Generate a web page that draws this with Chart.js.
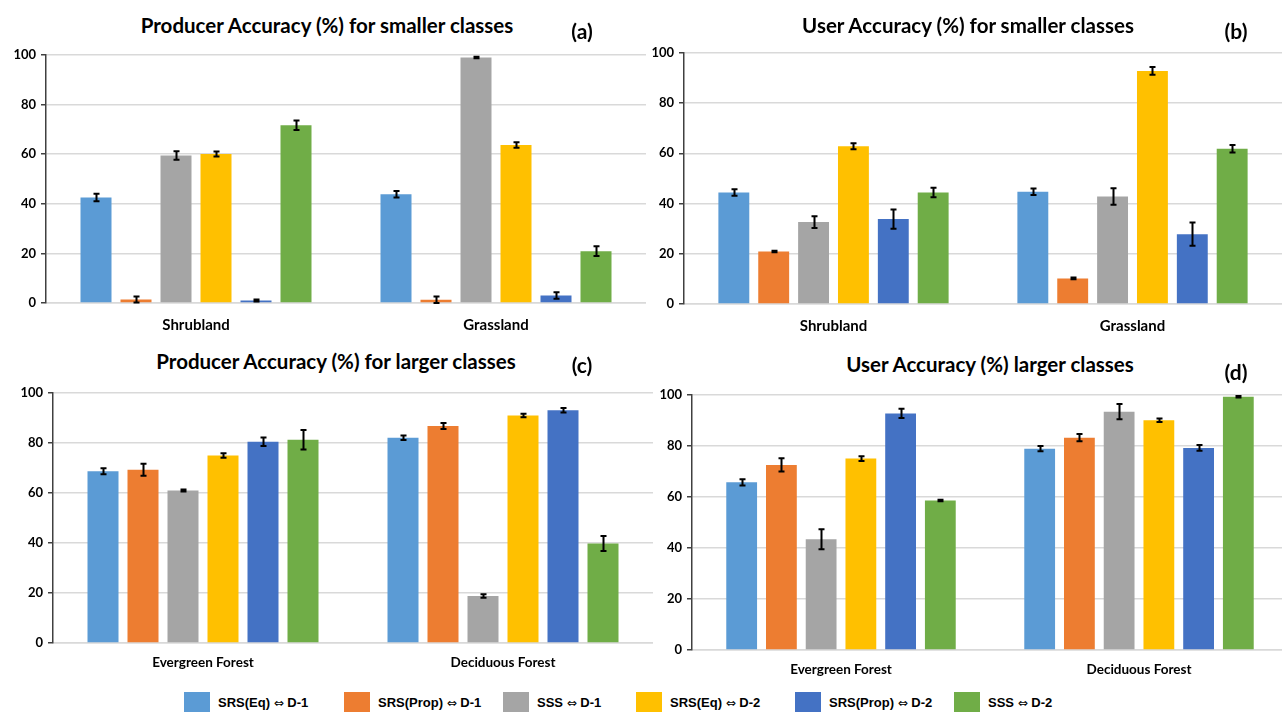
<!DOCTYPE html>
<html><head><meta charset="utf-8">
<script src="https://cdn.jsdelivr.net/npm/chart.js@4.4.1/dist/chart.umd.min.js"></script>
<style>
html,body{margin:0;padding:0;background:#fff;overflow:hidden;width:1282px;height:720px;position:relative;font-family:Lato,sans-serif}
canvas{position:absolute}
.title{position:absolute;font-weight:bold;font-size:20.5px;color:#000;white-space:nowrap;transform:translateX(-50%);line-height:1}
.tag{position:absolute;font-weight:bold;font-size:21px;color:#000;white-space:nowrap;transform:translateX(-50%);line-height:1}
.item{position:absolute;top:692px;height:20px;display:flex;align-items:center}
.sw{width:26px;height:20px;margin-right:8px}
.lt{font-family:'Liberation Sans Narrow','Liberation Sans',sans-serif;font-weight:bold;font-size:13px;color:#000;white-space:nowrap}
.ar{font-family:'DejaVu Sans',sans-serif;font-weight:normal;font-size:12px}
</style></head>
<body>
<script>
// ---- data ----
const seriesNames = ['SRS(Eq) \u21D4 D-1','SRS(Prop) \u21D4 D-1','SSS \u21D4 D-1','SRS(Eq) \u21D4 D-2','SRS(Prop) \u21D4 D-2','SSS \u21D4 D-2'];
const seriesColors = ['#5B9BD5','#ED7D31','#A5A5A5','#FFC000','#4472C4','#70AD47'];
const smallClasses = ['Shrubland','Grassland'];
const largeClasses = ['Evergreen Forest','Deciduous Forest'];
const yTicks = [0,20,40,60,80,100];

// (a) Producer accuracy, smaller classes — one [Shrubland, Grassland] pair per series
const paSmall    = [[42.5,43.8],[1.4,1.3],[59.4,98.9],[60.0,63.7],[1.0,3.0],[71.6,20.9]];
const paSmallErr = [[1.5,1.3],[1.2,1.3],[1.7,0.3],[1.0,1.1],[0.4,1.3],[1.9,2.0]];
// (b) User accuracy, smaller classes
const uaSmall    = [[44.4,44.7],[20.9,10.2],[32.6,42.8],[62.8,92.8],[33.8,27.8],[44.4,61.8]];
const uaSmallErr = [[1.3,1.3],[0.3,0.3],[2.3,3.3],[1.2,1.5],[3.8,4.6],[1.9,1.5]];
// (c) Producer accuracy, larger classes — [Evergreen, Deciduous]
const paLarge    = [[68.6,82.0],[69.2,86.7],[61.0,18.8],[74.9,90.9],[80.4,93.0],[81.2,39.8]];
const paLargeErr = [[1.2,0.9],[2.4,1.2],[0.4,0.7],[0.9,0.7],[1.7,0.9],[3.9,3.0]];
// (d) User accuracy, larger classes
const uaLarge    = [[65.7,78.9],[72.5,83.2],[43.4,93.4],[75.0,90.0],[92.7,79.2],[58.6,99.2]];
const uaLargeErr = [[1.2,1.0],[2.6,1.4],[3.9,3.0],[0.9,0.7],[1.8,1.1],[0.3,0.3]];

const panelTitles = ['Producer Accuracy (%) for smaller classes','User Accuracy (%) for smaller classes','Producer Accuracy (%) for larger classes','User Accuracy (%) larger classes'];
const panelTags = ['(a)','(b)','(c)','(d)'];

// ---- layout ----
const panels = [
  {cats:smallClasses, vals:paSmall, errs:paSmallErr, left:0,   top:42,  w:646, h:291, yw:46, cf:15, cp:13, tx:327, ty:15, gx:582, gy:20},
  {cats:smallClasses, vals:uaSmall, errs:uaSmallErr, left:640, top:40,  w:642, h:294, yw:44, cf:15, cp:13, tx:968, ty:15, gx:1236, gy:20},
  {cats:largeClasses, vals:paLarge, errs:paLargeErr, left:0,   top:380, w:653, h:293, yw:53, cf:13.5, cp:12, tx:336, ty:351, gx:582, gy:354},
  {cats:largeClasses, vals:uaLarge, errs:uaLargeErr, left:640, top:382, w:648, h:298, yw:52, cf:13.5, cp:12, tx:990, ty:354, gx:1236, gy:361}
];

const errorBarPlugin = {
  id:'errorBars',
  afterDatasetsDraw(chart){
    const ctx = chart.ctx, ys = chart.scales.y;
    ctx.save();
    ctx.strokeStyle = '#000'; ctx.lineWidth = 2;
    chart.data.datasets.forEach((ds,i)=>{
      const meta = chart.getDatasetMeta(i);
      meta.data.forEach((bar,j)=>{
        const v = ds.data[j], e = ds.errorBars[j];
        const y1 = ys.getPixelForValue(v+e), y2 = ys.getPixelForValue(Math.max(0,v-e));
        const x = Math.round(bar.x)+0.5;
        ctx.beginPath();
        ctx.moveTo(x,y1); ctx.lineTo(x,y2);
        ctx.moveTo(x-3,y1); ctx.lineTo(x+3,y1);
        ctx.moveTo(x-3,y2); ctx.lineTo(x+3,y2);
        ctx.stroke();
      });
    });
    ctx.restore();
  }
};

Chart.defaults.font.family = 'Lato';
Chart.defaults.color = '#000';

panels.forEach((p,k)=>{
  const c = document.createElement('canvas');
  c.width = p.w; c.height = p.h;
  c.style.left = p.left+'px'; c.style.top = p.top+'px';
  c.style.width = p.w+'px'; c.style.height = p.h+'px';
  document.body.appendChild(c);

  const t = document.createElement('div');
  t.className='title'; t.textContent = panelTitles[k];
  t.style.left = p.tx+'px'; t.style.top = p.ty+'px';
  document.body.appendChild(t);
  const g = document.createElement('div');
  g.className='tag'; g.textContent = panelTags[k];
  g.style.left = p.gx+'px'; g.style.top = p.gy+'px';
  document.body.appendChild(g);

  new Chart(c,{
    type:'bar',
    data:{
      labels:p.cats,
      datasets:seriesNames.map((n,i)=>({
        label:n, data:p.vals[i], errorBars:p.errs[i],
        backgroundColor:seriesColors[i], borderWidth:0,
        categoryPercentage:0.8, barPercentage:0.775
      }))
    },
    options:{
      responsive:false, animation:false, devicePixelRatio:1,
      layout:{padding:{top:10,right:0,bottom:0,left:0}},
      plugins:{legend:{display:false}, title:{display:false}, tooltip:{enabled:false}},
      scales:{
        x:{
          grid:{display:false, drawTicks:false},
          border:{display:true, color:'#D9D9D9', width:1.5},
          ticks:{font:{size:p.cf, weight:'bold'}, padding:p.cp, color:'#000'},
          afterFit(s){ s.height = 30; }
        },
        y:{
          min:0, max:100,
          afterBuildTicks(s){ s.ticks = yTicks.map(v=>({value:v})); },
          grid:{color:'#D9D9D9', lineWidth:1.5, tickLength:5, tickColor:'#404040', tickWidth:1.5},
          border:{display:true, color:'#404040', width:1.5},
          ticks:{font:{size:13, weight:'bold'}, padding:5, color:'#000'},
          afterFit(s){ s.width = p.yw; }
        }
      }
    },
    plugins:[errorBarPlugin]
  });
});

// shared legend
const legendX = [184,344,503,636,795,954];
seriesNames.forEach((n,i)=>{
  const d = document.createElement('div');
  d.className='item'; d.style.left = legendX[i]+'px';
  const s = document.createElement('div'); s.className='sw'; s.style.background = seriesColors[i];
  const l = document.createElement('span'); l.className='lt';
  const parts = n.split('\u21D4');
  l.appendChild(document.createTextNode(parts[0]));
  const a = document.createElement('span'); a.className='ar'; a.textContent='\u21D4';
  l.appendChild(a);
  l.appendChild(document.createTextNode(parts[1]));
  d.appendChild(s); d.appendChild(l);
  document.body.appendChild(d);
});
</script>
</body></html>
